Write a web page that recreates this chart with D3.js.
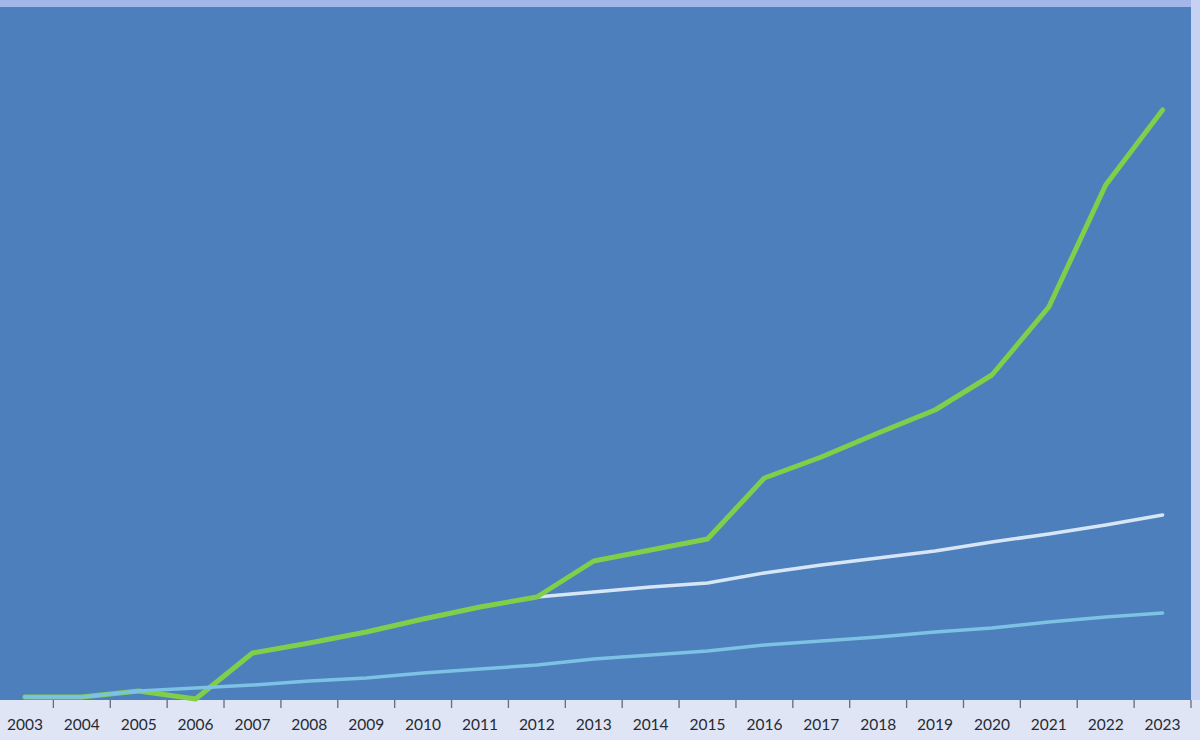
<!DOCTYPE html>
<html><head><meta charset="utf-8">
<script src="https://cdn.jsdelivr.net/npm/d3@7"></script>
<style>html,body{margin:0;padding:0;background:#dfe5f4;}svg{display:block;}</style>
</head><body>
<svg id="chart" width="1200" height="740"></svg>
<script>
const years = ["2003","2004","2005","2006","2007","2008","2009","2010","2011","2012","2013","2014","2015","2016","2017","2018","2019","2020","2021","2022","2023"];
const greenValues = [2,2,8,0,46,56,67,80,92,102,138,149,160,221,242,266,289,324,392,514,589];
const whiteValues = [2,2,8,0,46,56,67,80,92,102,107,112,116,126,134,141,148,157,165,174,184];
const blueValues  = [2,2,8,11,14,18,21,26,30,34,40,44,48,54,58,62,67,71,77,82,86];

(function(){
const svg = d3.select("#chart");
const pLeft = -3.5, pRight = 1191, pTop = 7, pBottom = 700;

svg.append("rect").attr("x",0).attr("y",0).attr("width",1200).attr("height",740).attr("fill","#dfe5f4");
svg.append("rect").attr("x",0).attr("y",0).attr("width",1200).attr("height",pTop).attr("fill","#a3b6e9");
svg.append("rect").attr("x",pRight).attr("y",0).attr("width",1200-pRight).attr("height",pBottom).attr("fill","#c7d1f1");
svg.append("rect").attr("x",pLeft).attr("y",pTop).attr("width",pRight-pLeft).attr("height",pBottom-pTop).attr("fill","#4c7fbb");

const x = d3.scaleBand().domain(years).range([pLeft, pRight]).paddingInner(0).paddingOuter(0);
const y = d3.scaleLinear().domain([0, 690]).range([699, 9]);
const cx = d => x(d) + x.bandwidth()/2;

const g = svg.append("g");
g.selectAll("line.tick").data(years).enter().append("line")
  .attr("x1", d => x(d) + x.step()).attr("x2", d => x(d) + x.step())
  .attr("y1", pBottom).attr("y2", pBottom + 8)
  .attr("stroke","#656b78").attr("stroke-width",1.3);
g.selectAll("text").data(years).enter().append("text")
  .attr("x", cx).attr("y", 730)
  .attr("text-anchor","middle")
  .attr("font-family","Lato, 'Open Sans', sans-serif")
  .attr("font-size","15.5px")
  .attr("fill","#262a33")
  .text(d => d);

const line = vals => d3.line().x((d,i) => cx(years[i])).y(d => y(d))(vals);

svg.append("path").attr("d", line(whiteValues)).attr("fill","none")
  .attr("stroke","#d6e6f7").attr("stroke-width",3.5).attr("stroke-linejoin","round").attr("stroke-linecap","round");
svg.append("path").attr("d", line(greenValues)).attr("fill","none")
  .attr("stroke","#80ce4a").attr("stroke-width",5).attr("stroke-linejoin","round").attr("stroke-linecap","round");
svg.append("path").attr("d", line(blueValues)).attr("fill","none")
  .attr("stroke","#7cc2e4").attr("stroke-width",3.5).attr("stroke-linejoin","round").attr("stroke-linecap","round");
})();
</script>
</body></html>
